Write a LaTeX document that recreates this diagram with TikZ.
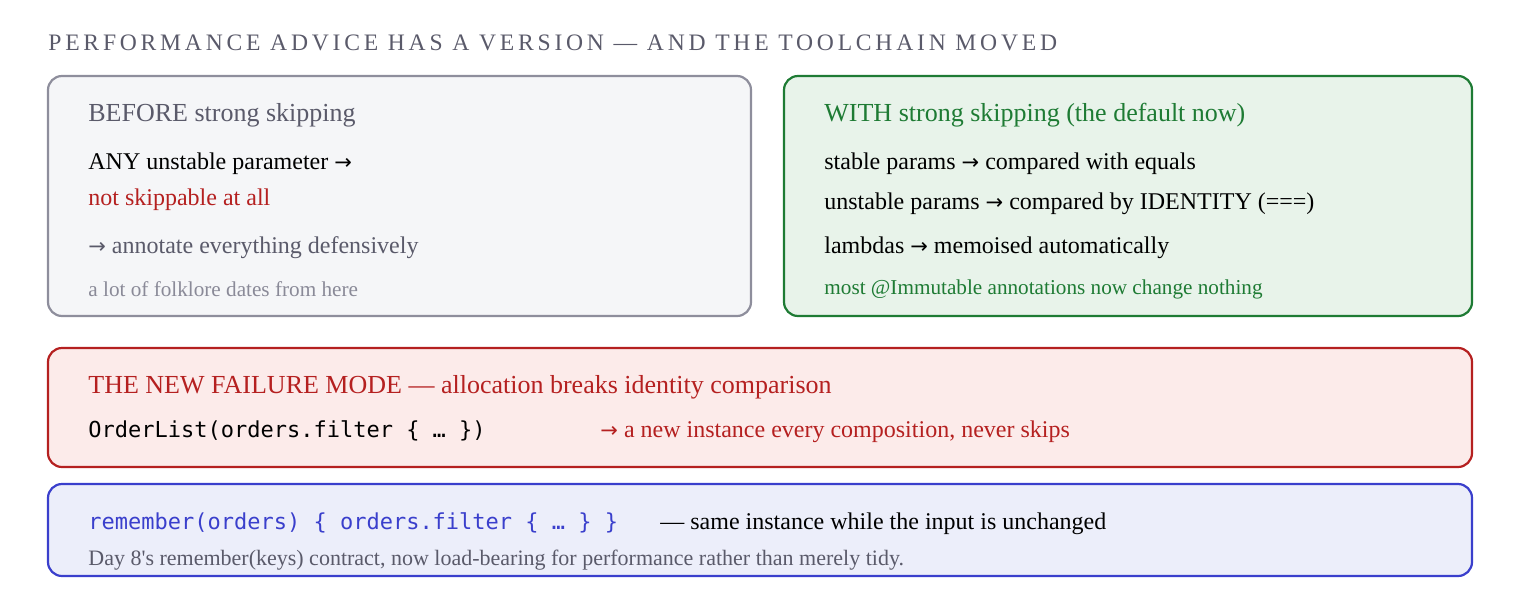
\documentclass[tikz,border=0pt]{standalone}
\usepackage{fontspec}
\setmainfont{Liberation Serif}
\setmonofont{DejaVu Sans Mono}
\newfontfamily\titlefont[LetterSpace=16]{Liberation Serif}
\newfontfamily\arrowfont{DejaVu Sans}
\newfontfamily\plainserif[Ligatures=ResetAll]{Liberation Serif}
\definecolor{greyB}{HTML}{8E8E9C}
\definecolor{greyF}{HTML}{F5F6F8}
\definecolor{greyT}{HTML}{5A5A6A}
\definecolor{greyS}{HTML}{8A8A98}
\definecolor{grnB}{HTML}{1E7B34}
\definecolor{grnF}{HTML}{E8F3EA}
\definecolor{redB}{HTML}{B52020}
\definecolor{redF}{HTML}{FCEBEA}
\definecolor{bluB}{HTML}{3A3FCC}
\definecolor{bluF}{HTML}{ECEEFA}
\newcommand{\arr}{{\arrowfont\fontsize{10.5}{10}\selectfont→}}
\begin{document}
\begin{tikzpicture}[x=0.5pt,y=-0.5pt,
  box/.style={rounded corners=7pt,line width=1.1pt},
  t/.style={anchor=west,inner sep=0pt,font=\fontsize{12}{14}\selectfont},
  h/.style={anchor=west,inner sep=0pt,font=\fontsize{13}{15}\selectfont},
  s/.style={anchor=west,inner sep=0pt,font=\fontsize{10.6}{12}\selectfont},
  m/.style={anchor=west,inner sep=0pt,font=\ttfamily\fontsize{11}{13}\selectfont}]
\useasboundingbox (0,0) rectangle (1520,600);
\node[anchor=west,inner sep=0pt,text=greyT,font=\titlefont\fontsize{11.8}{13}\selectfont] (title) at (48,43) {PERFORMANCE ADVICE HAS A VERSION — AND THE TOOLCHAIN MOVED};
\draw[box,draw=greyB,fill=greyF] (48,76) rectangle (751,316);
\draw[box,draw=grnB,fill=grnF] (784,76) rectangle (1472,316);
\draw[box,draw=redB,fill=redF] (48,348) rectangle (1472,467);
\draw[box,draw=bluB,fill=bluF] (48,484) rectangle (1472,576);
\node[h,text=greyT] (a1) at (88,115) {BEFORE strong skipping};
\node[t] (a2) at (88,164) {ANY unstable parameter \arr};
\node[t,text=redB] (a3) at (88,200) {not skippable at all};
\node[t,text=greyT] (a4) at (88,248) {\arr\ annotate everything defensively};
\node[s,text=greyS] (a5) at (88,289) {a lot of folklore dates from here};
\node[h,text=grnB] (b1) at (824,115) {WITH strong skipping (the default now)};
\node[t] (b2) at (824,164) {stable params \arr\ compared with equals};
\node[t] (b3) at (824,204) {unstable params \arr\ compared by IDENTITY (===)};
\node[t] (b4) at (824,248) {lambdas \arr\ memoised automatically};
\node[s,text=grnB] (b5) at (824,289) {most @Immutable annotations now change nothing};
\node[h,text=redB] (c1) at (88,387) {THE NEW FAILURE MODE — allocation breaks identity comparison};
\node[m] (c2) at (88,431) {OrderList(orders.filter \{ … \})};
\node[t,text=redB] (c3) at (600,432) {\arr\ a new instance every composition, never skips};
\node[m,text=bluB] (d1) at (88,523) {remember(orders) \{ orders.filter \{ … \} \}};
\node[t] (d2) at (660,524) {— same instance while the input is unchanged};
\node[anchor=west,inner sep=0pt,font=\plainserif\fontsize{11}{12}\selectfont,text=greyT] (d3) at (88,560) {Day 8's remember(keys) contract, now load-bearing for performance rather than merely tidy.};
\end{tikzpicture}
\end{document}
